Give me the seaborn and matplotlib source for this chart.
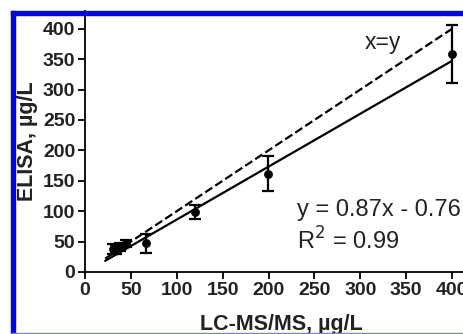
import matplotlib
matplotlib.use("Agg")
import matplotlib.pyplot as plt
import matplotlib.patches as mpatches
import seaborn as sns
import pandas as pd
import numpy as np

# measured values (LC-MS/MS vs ELISA)
lcms = [30, 34, 38, 45, 67, 120, 199, 400]
elisa = [38, 37, 41, 47, 47, 99, 162, 359]
elisa_err = [8, 7, 6, 6, 16, 12, 28, 48]

# fit y = 0.87x - 0.76 and identity line
slope = 0.87
intercept = -0.76
line_x = [22, 400]

sns.set_theme(style="ticks")
plt.rcParams["font.family"] = ["Liberation Sans", "DejaVu Sans"]

df = pd.DataFrame({"lcms": lcms, "elisa": elisa, "err": elisa_err})
lines = pd.DataFrame({
    "x": line_x * 2,
    "y": line_x + [slope * v + intercept for v in line_x],
    "kind": ["x=y", "x=y", "fit", "fit"],
})

fig = plt.figure(figsize=(4.63, 3.34), dpi=100)
W, H = 463, 334
ax = fig.add_axes([85 / W, 1 - 272 / H, (463 - 85) / W, (272 - 11) / H])

sns.lineplot(data=lines[lines.kind == "x=y"], x="x", y="y", ax=ax,
             color="black", lw=1.6, dashes=False, linestyle=(0, (3.8, 1.6)))
sns.lineplot(data=lines[lines.kind == "fit"], x="x", y="y", ax=ax,
             color="black", lw=1.6)
ax.errorbar(df.lcms, df.elisa, yerr=df.err, fmt="none", ecolor="black",
            elinewidth=1.6, capsize=4.5, capthick=1.6)
sns.scatterplot(data=df, x="lcms", y="elisa", ax=ax, color="black",
                s=34, edgecolor="black", zorder=5)

ax.set_xlim(0, (463 - 85) / 0.9175)
ax.set_ylim(0, (272 - 11) / 0.608)
ax.set_xticks(range(0, 401, 50))
ax.set_yticks(range(0, 401, 50))
ax.tick_params(length=5, width=1.3, labelsize=14, pad=2, colors="black")
for lab in ax.get_xticklabels() + ax.get_yticklabels():
    lab.set_fontweight("bold")
    lab.set_color("#222222")
sns.despine(ax=ax)
for s in ["left", "bottom"]:
    ax.spines[s].set_linewidth(1.3)
    ax.spines[s].set_color("black")

ax.set_xlabel("LC-MS/MS, µg/L", fontsize=15.5, fontweight="bold", color="#222222")
ax.set_ylabel("ELISA, µg/L", fontsize=15.5, fontweight="bold", color="#222222")
ax.xaxis.set_label_coords(0.519, -0.16)
ax.yaxis.set_label_coords(-0.125, 0.5)

ax.text(305, 378, "x=y", fontsize=16.5, va="center", ha="left", color="#222222")
ax.text(231, 102, "y = 0.87x - 0.76", fontsize=17, va="center", ha="left", color="#222222")
ax.text(231, 51, "R$^2$ = 0.99", fontsize=17, va="center", ha="left", color="#222222")

# blue frame of the original figure
fig.patches.append(mpatches.Rectangle((11 / W, 0), 4 / W, 1 - 11 / H,
                                      transform=fig.transFigure, color="#0000ee", zorder=10))
fig.patches.append(mpatches.Rectangle((11 / W, 1 - 15 / H), 1 - 11 / W, 4 / H,
                                      transform=fig.transFigure, color="#0000ee", zorder=10))
fig.patches.append(mpatches.Rectangle((11 / W, 0), 1 - 11 / W, 1.5 / H,
                                      transform=fig.transFigure, color="#6688ff", zorder=10))

fig.savefig("out.png", dpi=100)
